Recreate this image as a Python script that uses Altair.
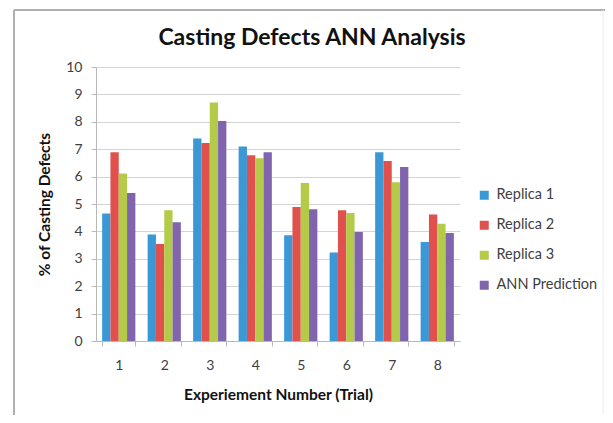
import altair as alt
import pandas as pd

trials = ["1", "2", "3", "4", "5", "6", "7", "8"]
series = ["Replica 1", "Replica 2", "Replica 3", "ANN Prediction"]
replica1 = [4.65, 3.89, 7.39, 7.10, 3.86, 3.23, 6.89, 3.61]
replica2 = [6.89, 3.54, 7.23, 6.78, 4.89, 4.77, 6.57, 4.62]
replica3 = [6.11, 4.77, 8.70, 6.67, 5.77, 4.67, 5.79, 4.28]
ann_pred = [5.40, 4.33, 8.03, 6.89, 4.81, 3.98, 6.35, 3.94]
colors = ["#3A98D6", "#E0504D", "#B3CB48", "#8065AE"]

rows = []
for name, vals in zip(series, [replica1, replica2, replica3, ann_pred]):
    for t, v in zip(trials, vals):
        rows.append({"trial": t, "series": name, "value": v})
df = pd.DataFrame(rows)

FONT = "Lato"

bars = alt.Chart(df).mark_bar().encode(
    x=alt.X("trial:N", sort=trials,
            scale=alt.Scale(paddingInner=0.27, paddingOuter=0.135),
            axis=alt.Axis(title="Experiement Number (Trial)", labelAngle=0,
                          tickBand="extent", tickSize=5, labelPadding=12,
                          titlePadding=15, grid=False)),
    xOffset=alt.XOffset("series:N", sort=series),
    y=alt.Y("value:Q", scale=alt.Scale(domain=[0, 10], nice=False),
            axis=alt.Axis(title="% of Casting Defects", values=list(range(11)),
                          tickSize=5, labelPadding=9, titlePadding=13)),
    color=alt.Color("series:N", sort=series,
                    scale=alt.Scale(domain=series, range=colors),
                    legend=alt.Legend(title=None, orient="none", legendX=381,
                                      legendY=121, symbolType="square",
                                      symbolSize=81, symbolStrokeWidth=0,
                                      labelFontSize=14.5, rowPadding=15,
                                      labelColor="#404040", labelFont=FONT,
                                      labelOffset=5)),
)

one = pd.DataFrame({"a": [0]})
top_line = alt.Chart(one).mark_rule(color="#b0b0b0", strokeWidth=2, clip=False).encode(
    x=alt.value(-82), x2=alt.value(512), y=alt.value(-57))
left_line = alt.Chart(one).mark_rule(color="#b0b0b0", strokeWidth=2, clip=False).encode(
    x=alt.value(-82), y=alt.value(-57), y2=alt.value(400))
right_line = alt.Chart(one).mark_rule(color="#ececec", strokeWidth=1, clip=False).encode(
    x=alt.value(507), y=alt.value(-57), y2=alt.value(400))

chart = alt.layer(top_line, left_line, right_line, bars).properties(
    width=364, height=274,
    title=alt.TitleParams("Casting Defects ANN Analysis", fontSize=23,
                          font=FONT, fontWeight="bold", color="#111111",
                          anchor="middle", dx=34, offset=-41),
    autosize=alt.AutoSizeParams(type="none"),
    padding={"left": 88, "top": 59, "right": 145, "bottom": 74},
).configure_view(stroke=None).configure_axis(
    labelFont=FONT, titleFont=FONT, labelFontSize=14, titleFontSize=15.5,
    labelColor="#404040", titleColor="#111111", titleFontWeight="bold",
    gridColor="#d4d4d4", domainColor="#b8b8b8", tickColor="#b8b8b8",
)

chart.save("out.html", embed_options={"renderer": "svg", "actions": False})
